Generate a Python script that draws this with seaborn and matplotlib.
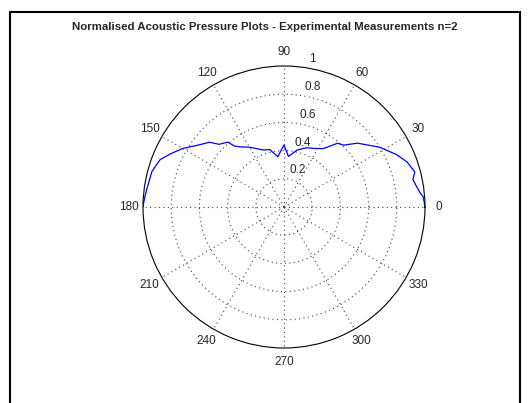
import numpy as np
import pandas as pd
import matplotlib.pyplot as plt
from matplotlib.patches import Rectangle
import seaborn as sns

# measured pattern, angle in degrees and normalised pressure
angle_deg = [0, 2, 4, 6, 9, 12, 15, 20, 25, 32, 41, 46, 50, 56, 62, 69, 77, 85, 90,
             97, 104, 110, 120, 125, 129, 131, 136, 139, 145, 150, 155, 159, 163,
             165, 172, 176, 178, 180]
pressure = [1.00, 0.995, 0.99, 0.97, 0.95, 0.935, 0.96, 0.93, 0.88, 0.80, 0.69, 0.61,
            0.59, 0.50, 0.47, 0.45, 0.415, 0.36, 0.44,
            0.36, 0.42, 0.43, 0.49, 0.52, 0.555, 0.61, 0.64, 0.70, 0.76, 0.83, 0.89,
            0.94, 0.96, 0.97, 0.98, 0.99, 0.995, 1.00]

r_ticks = [0.2, 0.4, 0.6, 0.8, 1.0]
r_labels = ["0.2", "0.4", "0.6", "0.8", "1"]
theta_ticks = [0, 30, 60, 90, 120, 150, 180, 210, 240, 270, 300, 330]
title = "Normalised Acoustic Pressure Plots - Experimental Measurements n=2"


def main():
    sns.set_style("white")
    plt.rcParams["font.family"] = ["Liberation Sans", "DejaVu Sans"]

    df = pd.DataFrame({"theta": np.deg2rad(angle_deg), "r": pressure})

    fig = plt.figure(figsize=(5.28, 4.03), dpi=100)
    ax = fig.add_axes([143 / 528, 55 / 403, 282 / 528, 282 / 403], projection="polar")

    sns.lineplot(data=df, x="theta", y="r", ax=ax, sort=False, color="#0000ff",
                 linewidth=0.9, estimator=None)

    ax.set_ylim(0, 1)
    ax.set_yticks(r_ticks[:-1])
    ax.set_yticklabels([])
    ax.set_xticks(np.deg2rad(theta_ticks))
    ax.set_xticklabels([])
    ax.grid(True, color="#444444", linestyle=(0, (1, 3)), linewidth=0.8)
    ax.spines["polar"].set_color("black")
    ax.spines["polar"].set_linewidth(0.8)
    ax.set_xlabel("")
    ax.set_ylabel("")

    # radial labels, MATLAB style
    for rv, lab in zip(r_ticks, r_labels):
        ax.text(np.deg2rad(80), rv + 0.02, lab, ha="left", va="bottom",
                fontsize=8.5, clip_on=False)

    # angle labels
    for t in theta_ticks:
        ax.text(np.deg2rad(t), 1.1, str(t), ha="center", va="center",
                fontsize=8.5, clip_on=False)

    fig.text(265 / 528, 1 - 27 / 403, title, ha="center", va="center",
             fontsize=8.2, fontweight="bold")

    fig.patches.append(Rectangle((10 / 528, -0.05), 510 / 528, 1.05 - 12 / 403,
                                 transform=fig.transFigure, fill=False,
                                 edgecolor="black", linewidth=1.5))

    fig.savefig("out.png", dpi=100)
    plt.close(fig)


if __name__ == "__main__":
    main()
